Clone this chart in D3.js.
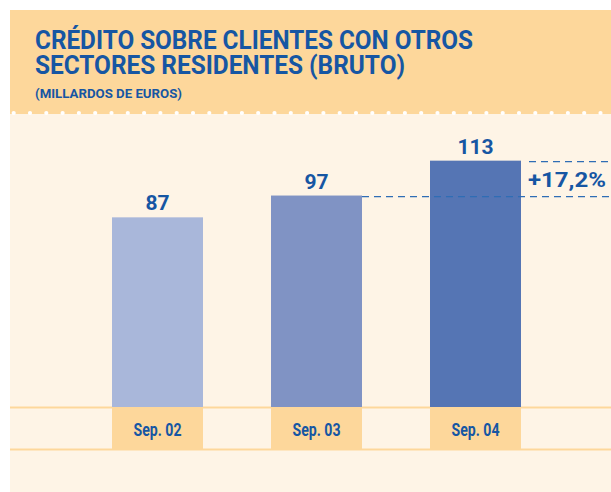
<!DOCTYPE html>
<html><head><meta charset="utf-8">
<script src="https://cdn.jsdelivr.net/npm/d3@7"></script>
<style>body{margin:0;background:#fff}svg{display:block}</style>
</head><body><svg id="c" width="611" height="492"></svg>
<script>
const categories = ["Sep. 02", "Sep. 03", "Sep. 04"];
const values = [87, 97, 113];
const valueLabels = ["87", "97", "113"];
const growthLabel = "+17,2%";
const titleLines = ["CRÉDITO SOBRE CLIENTES CON OTROS", "SECTORES RESIDENTES (BRUTO)"];
const subtitle = "(MILLARDOS DE EUROS)";
const barColors = ["#A9B7DA", "#8093C4", "#5575B4"];

(function () {
const svg = d3.select("#c");
const W = 611, H = 492, padL = 10, padT = 10;
const blue = "#1656A3", dashBlue = "#2F6DB5", orange = "#FDD79B", cream = "#FEF4E6";
const font = "Roboto, 'DejaVu Sans Condensed', sans-serif";

svg.append("rect").attr("x", padL).attr("y", padT).attr("width", W - padL).attr("height", H - padT).attr("fill", cream);
svg.append("rect").attr("x", padL).attr("y", padT).attr("width", W - padL).attr("height", 104).attr("fill", orange);
svg.selectAll("circle.dot").data(d3.range(13.7, W + 2, 16.3)).join("circle").attr("class", "dot")
  .attr("cx", d => d).attr("cy", 113).attr("r", 2.1).attr("fill", "#fff");

const tw = [438, 370];
titleLines.forEach((l, i) => svg.append("text").attr("x", 35).attr("y", 49 + i * 25)
  .attr("fill", blue).attr("font-family", font).attr("font-weight", 700).attr("font-size", 25)
  .attr("textLength", tw[i]).attr("lengthAdjust", "spacingAndGlyphs").text(l));
svg.append("text").attr("x", 35).attr("y", 98).attr("fill", blue).attr("font-family", font)
  .attr("font-weight", 700).attr("font-size", 13.5)
  .attr("textLength", 147).attr("lengthAdjust", "spacingAndGlyphs").text(subtitle);

const x = d3.scaleBand().domain(categories).range([112, 521]).paddingInner(0.4277).paddingOuter(0);
const y = d3.scaleLinear().domain([0, 113]).range([407, 407 - 2.18 * 113]);

svg.selectAll("rect.lab").data(categories).join("rect").attr("class", "lab")
  .attr("x", d => x(d)).attr("y", 408).attr("width", x.bandwidth()).attr("height", 41).attr("fill", orange);
svg.selectAll("line.hl").data([407.5, 449.5]).join("line").attr("class", "hl")
  .attr("x1", padL).attr("x2", W).attr("y1", d => d).attr("y2", d => d)
  .attr("stroke", orange).attr("stroke-width", 2);

svg.selectAll("rect.bar").data(values).join("rect").attr("class", "bar")
  .attr("x", (d, i) => x(categories[i])).attr("y", d => y(d))
  .attr("width", x.bandwidth()).attr("height", d => y(0) - y(d))
  .attr("fill", (d, i) => barColors[i]);

svg.selectAll("text.val").data(values).join("text").attr("class", "val")
  .attr("x", (d, i) => x(categories[i]) + x.bandwidth() / 2).attr("y", d => y(d) - 7)
  .attr("text-anchor", "middle").attr("fill", blue).attr("font-family", font)
  .attr("font-weight", 700).attr("font-size", 21).text((d, i) => valueLabels[i]);

svg.selectAll("text.cat").data(categories).join("text").attr("class", "cat")
  .attr("x", d => x(d) + x.bandwidth() / 2).attr("y", 436)
  .attr("text-anchor", "middle").attr("fill", blue).attr("font-family", font)
  .attr("font-weight", 700).attr("font-size", 19)
  .attr("textLength", 48).attr("lengthAdjust", "spacingAndGlyphs").text(d => d);

const i2 = 1, i3 = 2;
svg.append("line").attr("x1", x(categories[i2]) + x.bandwidth()).attr("x2", W)
  .attr("y1", y(values[i2]) + 1).attr("y2", y(values[i2]) + 1)
  .attr("stroke", dashBlue).attr("stroke-width", 1.3).attr("stroke-dasharray", "7 5");
svg.append("line").attr("x1", x(categories[i3]) + x.bandwidth() + 8).attr("x2", W)
  .attr("y1", y(values[i3]) + 1).attr("y2", y(values[i3]) + 1)
  .attr("stroke", dashBlue).attr("stroke-width", 1.3).attr("stroke-dasharray", "7 5");
svg.append("text").attr("x", x(categories[i3]) + x.bandwidth() + 7).attr("y", (y(values[i2]) + y(values[i3])) / 2 + 9)
  .attr("fill", blue).attr("font-family", font).attr("font-weight", 700)
  .attr("font-size", 21).attr("textLength", 78).attr("lengthAdjust", "spacingAndGlyphs").text(growthLabel);
})();
</script></body></html>
